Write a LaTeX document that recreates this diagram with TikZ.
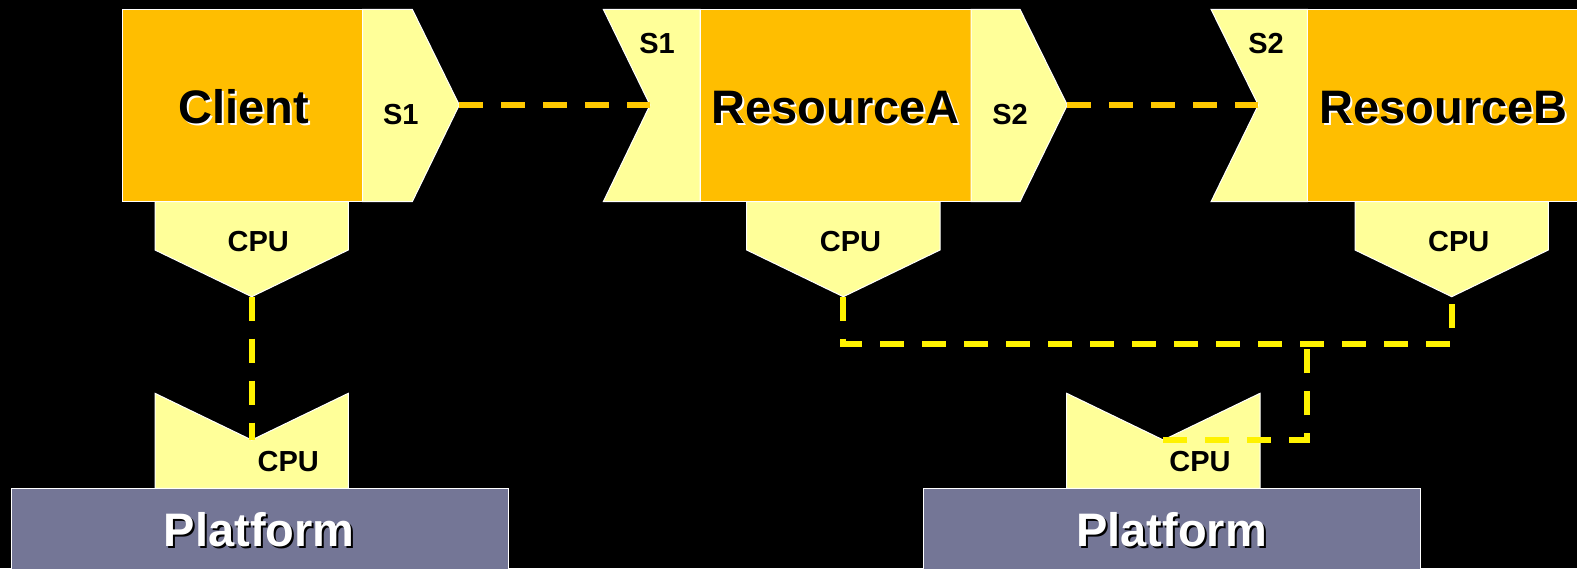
\documentclass[tikz,border=0pt]{standalone}
\usepackage{fontspec}
\setmainfont{Liberation Sans}
\begin{document}
\begin{tikzpicture}[x=1pt,y=-1pt,
  comp/.style={fill=compfill,draw=white,line width=1pt},
  port/.style={fill=portfill,draw=white,line width=1pt},
  plat/.style={fill=platfill,draw=white,line width=1pt},
  big/.style={font=\fontsize{47}{50}\selectfont\bfseries,inner sep=0pt,anchor=base},
  small/.style={font=\fontsize{29}{32}\selectfont\bfseries,inner sep=0pt,anchor=base},
  wire/.style={draw=wirecol,dash pattern=on 24pt off 18pt,line width=6pt},
  cpuwire/.style={draw=yellow,dash pattern=on 24pt off 18pt,line width=6pt}]
\definecolor{compfill}{RGB}{255,190,0}
\definecolor{portfill}{RGB}{255,255,153}
\definecolor{platfill}{RGB}{116,118,150}
\definecolor{wirecol}{RGB}{255,200,0}
\newcommand\shtext[2]{\makebox[0pt][l]{\kern2pt\raisebox{-2pt}{\color{#1}#2}}#2}
\fill[black] (0,0) rectangle (1577,568);
\useasboundingbox (0,0) rectangle (1577,568);
\clip (0,0) rectangle (1577,568);

% Client component with provided port S1 and required CPU
\draw[comp] (122.7,9.3) rectangle (362.7,201.7);
\draw[port] (362.7,9.3) -- (412.3,9.3) -- (459.3,105) -- (412.3,201.7) -- (362.7,201.7) -- cycle;
\draw[port] (155,201.7) -- (348.3,201.7) -- (348.3,250) -- (251.7,296.7) -- (155,250) -- cycle;
\node[big] (client) at (243.8,123) {\shtext{white}{Client}};
\node[small] (clients1) at (400.8,124) {S1};
\node[small] (clientcpu) at (258.3,251) {CPU};
\coordinate (s1out) at (459.3,105);
\coordinate (cpuC) at (251.7,296.7);

% ResourceA
\draw[port] (603.3,9.3) -- (700,9.3) -- (700,201.7) -- (603.3,201.7) -- (650,105) -- cycle;
\draw[comp] (700,9.3) rectangle (971,201.7);
\draw[port] (971,9.3) -- (1020,9.3) -- (1067.3,105) -- (1020,201.7) -- (971,201.7) -- cycle;
\draw[port] (746.7,201.7) -- (940,201.7) -- (940,250) -- (843.3,296.7) -- (746.7,250) -- cycle;
\node[big] (resA) at (835.7,123) {\shtext{white}{ResourceA}};
\node[small] (resAs1) at (657,53) {S1};
\node[small] (resAs2) at (1010,124) {S2};
\node[small] (resAcpu) at (850.5,251) {CPU};
\coordinate (s1in) at (650,105);
\coordinate (s2out) at (1067.3,105);
\coordinate (cpuA) at (843.3,296.7);

% ResourceB
\draw[port] (1211,9.3) -- (1307.3,9.3) -- (1307.3,201.7) -- (1211,201.7) -- (1258.3,105) -- cycle;
\draw[comp] (1307.3,9.3) rectangle (1600,201.7);
\draw[port] (1355,201.7) -- (1548.3,201.7) -- (1548.3,250) -- (1451.7,296.7) -- (1355,250) -- cycle;
\node[big] (resB) at (1443.8,123) {\shtext{white}{ResourceB}};
\node[small] (resBs2) at (1266,53) {S2};
\node[small] (resBcpu) at (1458.8,251) {CPU};
\coordinate (s2in) at (1258.3,105);
\coordinate (cpuB) at (1451.7,296.7);

% Platforms with provided CPU
\draw[port] (155,393.3) -- (251.7,440) -- (348.3,393.3) -- (348.3,488.3) -- (155,488.3) -- cycle;
\draw[plat] (11,488.3) rectangle (508.3,600);
\node[big,text=white] (platL) at (259.2,546) {\shtext{black}{Platform}};
\node[small] (platLcpu) at (288.3,471.5) {CPU};
\coordinate (sockL) at (251.7,440);

\draw[port] (1066.7,393.3) -- (1163.3,440) -- (1260,393.3) -- (1260,488.3) -- (1066.7,488.3) -- cycle;
\draw[plat] (923.2,488.3) rectangle (1420.2,600);
\node[big,text=white] (platR) at (1171.7,546) {\shtext{black}{Platform}};
\node[small] (platRcpu) at (1200,471.5) {CPU};
\coordinate (sockR) at (1163.3,440);
\coordinate (jct) at (1306.7,344);

% Connectors
\draw[wire] (s1out) -- (s1in);
\draw[wire] (s2out) -- (s2in);
\draw[cpuwire] (cpuC) -- (sockL);
\draw[cpuwire] (cpuA) |- (jct) -| (cpuB);
\draw[cpuwire] (sockR) -| (jct);
\end{tikzpicture}
\end{document}
